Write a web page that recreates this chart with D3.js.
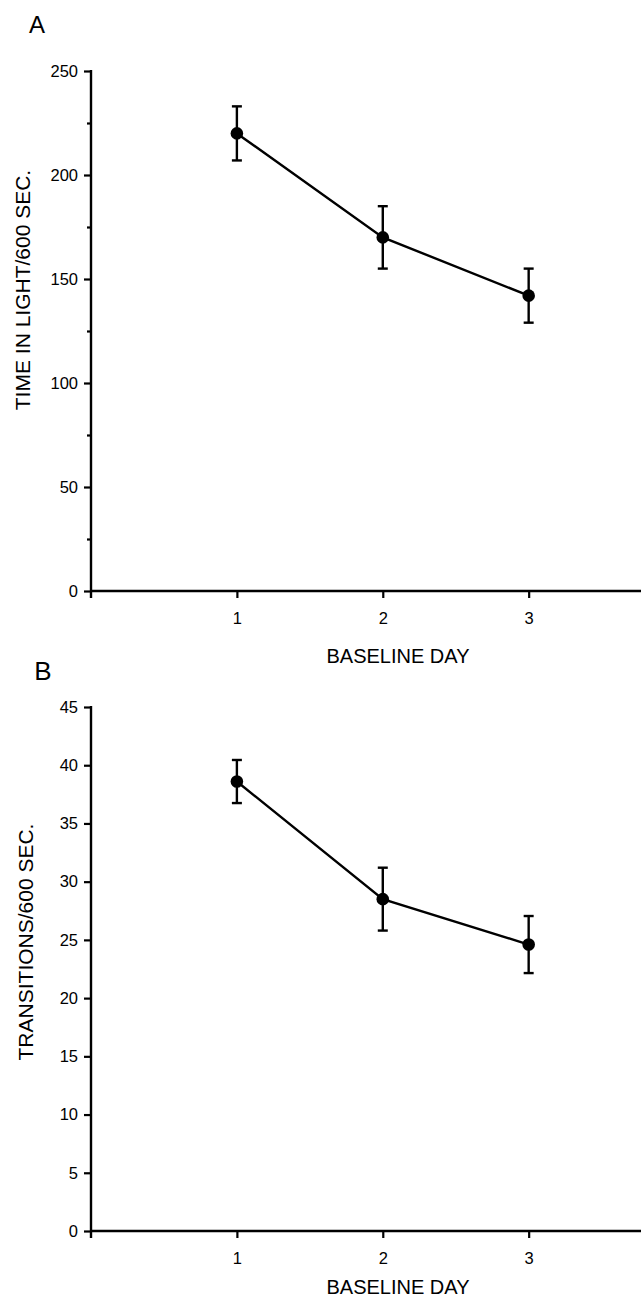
<!DOCTYPE html>
<html lang="en">
<head>
<meta charset="UTF-8">
<title>Baseline day</title>
<script src="https://d3js.org/d3.v7.min.js"></script>
<style>
  body { margin: 0; background: #fff; }
  svg { display: block; }
  text { font-family: "Liberation Sans", Arial, Helvetica, sans-serif; fill: #000; }
</style>
</head>
<body>
<svg id="chart" width="641" height="1298"></svg>
<script>
// data
var days = [1, 2, 3];
var lightMean = [220, 170, 142];
var lightErr = [13, 15, 13];
var transMean = [38.6, 28.5, 24.6];
var transErr = [1.85, 2.7, 2.45];

var lightTicks = [0, 50, 100, 150, 200, 250];
var lightMinor = [25, 75, 125, 175, 225];
var transTicks = [0, 5, 10, 15, 20, 25, 30, 35, 40, 45];
var dayTicks = [1, 2, 3];

var svg = d3.select("#chart");

// draw one panel
function drawPanel(opt) {
  var g = svg.append("g");

  var x = d3.scaleLinear().domain([0, 3.77]).range([91, 641]);
  var y = d3.scaleLinear().domain(opt.domain).range([opt.bottom, opt.top]);

  // y axis, major ticks with labels
  var yAxis = d3.axisLeft(y)
      .tickValues(opt.ticks)
      .tickFormat(d3.format("d"))
      .tickSize(7)
      .tickSizeOuter(0)
      .tickPadding(6);
  var ya = g.append("g").attr("transform", "translate(91,0)").call(yAxis);
  ya.select(".domain").remove();

  // minor ticks
  if (opt.minor) {
    g.append("g").attr("transform", "translate(91,0)")
      .call(d3.axisLeft(y).tickValues(opt.minor).tickSize(4).tickSizeOuter(0).tickFormat(""))
      .select(".domain").remove();
  }

  // x axis
  var xAxis = d3.axisBottom(x)
      .tickValues(dayTicks)
      .tickFormat(d3.format("d"))
      .tickSize(7)
      .tickSizeOuter(0)
      .tickPadding(14);
  var xa = g.append("g").attr("transform", "translate(0," + opt.bottom + ")").call(xAxis);
  xa.select(".domain").remove();

  g.selectAll(".tick line").attr("stroke", "#000").attr("stroke-width", 2.2);
  g.selectAll(".tick text").style("font-size", "16.5px").attr("fill", "#000");

  // axis lines
  g.append("line")
    .attr("x1", 91).attr("x2", 91)
    .attr("y1", y(opt.domain[1]) - 1).attr("y2", opt.bottom + 7)
    .attr("stroke", "#000").attr("stroke-width", 2.4);
  g.append("line")
    .attr("x1", 91).attr("x2", 641)
    .attr("y1", opt.bottom).attr("y2", opt.bottom)
    .attr("stroke", "#000").attr("stroke-width", 2.4);

  // connecting line
  var line = d3.line()
      .x(function(d, i) { return x(days[i]); })
      .y(function(d) { return y(d); });
  g.append("path")
    .datum(opt.mean)
    .attr("d", line)
    .attr("fill", "none")
    .attr("stroke", "#000")
    .attr("stroke-width", 2.4);

  // error bars
  var bars = g.selectAll("g.err").data(opt.mean).enter().append("g").attr("class", "err");
  bars.append("line")
    .attr("x1", function(d, i) { return x(days[i]); })
    .attr("x2", function(d, i) { return x(days[i]); })
    .attr("y1", function(d, i) { return y(d - opt.err[i]); })
    .attr("y2", function(d, i) { return y(d + opt.err[i]); })
    .attr("stroke", "#000").attr("stroke-width", 2.4);
  [-1, 1].forEach(function(s) {
    bars.append("line")
      .attr("x1", function(d, i) { return x(days[i]) - 5; })
      .attr("x2", function(d, i) { return x(days[i]) + 5; })
      .attr("y1", function(d, i) { return y(d + s * opt.err[i]); })
      .attr("y2", function(d, i) { return y(d + s * opt.err[i]); })
      .attr("stroke", "#000").attr("stroke-width", 2.4);
  });

  // points
  g.selectAll("circle.pt").data(opt.mean).enter().append("circle")
    .attr("class", "pt")
    .attr("cx", function(d, i) { return x(days[i]); })
    .attr("cy", function(d) { return y(d); })
    .attr("r", 6.3)
    .attr("fill", "#000");

  // titles
  g.append("text")
    .attr("transform", "translate(" + opt.titleX + "," + opt.titleY + ") rotate(-90)")
    .attr("text-anchor", "middle")
    .style("font-size", "21px")
    .text(opt.title);

  g.append("text")
    .attr("x", 398)
    .attr("y", opt.xTitleY)
    .attr("text-anchor", "middle")
    .style("font-size", "20px")
    .text("BASELINE DAY");

  g.append("text")
    .attr("x", opt.letterX)
    .attr("y", opt.letterY)
    .attr("text-anchor", "middle")
    .style("font-size", opt.letterSize)
    .text(opt.letter);
}

drawPanel({
  domain: [0, 250], top: 71, bottom: 591,
  ticks: lightTicks, minor: lightMinor,
  mean: lightMean, err: lightErr,
  title: "TIME IN LIGHT/600 SEC.", titleX: 30, titleY: 290,
  xTitleY: 663,
  letter: "A", letterX: 37, letterY: 33, letterSize: "24px"
});

drawPanel({
  domain: [0, 45], top: 707, bottom: 1231,
  ticks: transTicks, minor: null,
  mean: transMean, err: transErr,
  title: "TRANSITIONS/600 SEC.", titleX: 33, titleY: 942,
  xTitleY: 1294,
  letter: "B", letterX: 43, letterY: 680, letterSize: "26px"
});
</script>
</body>
</html>
